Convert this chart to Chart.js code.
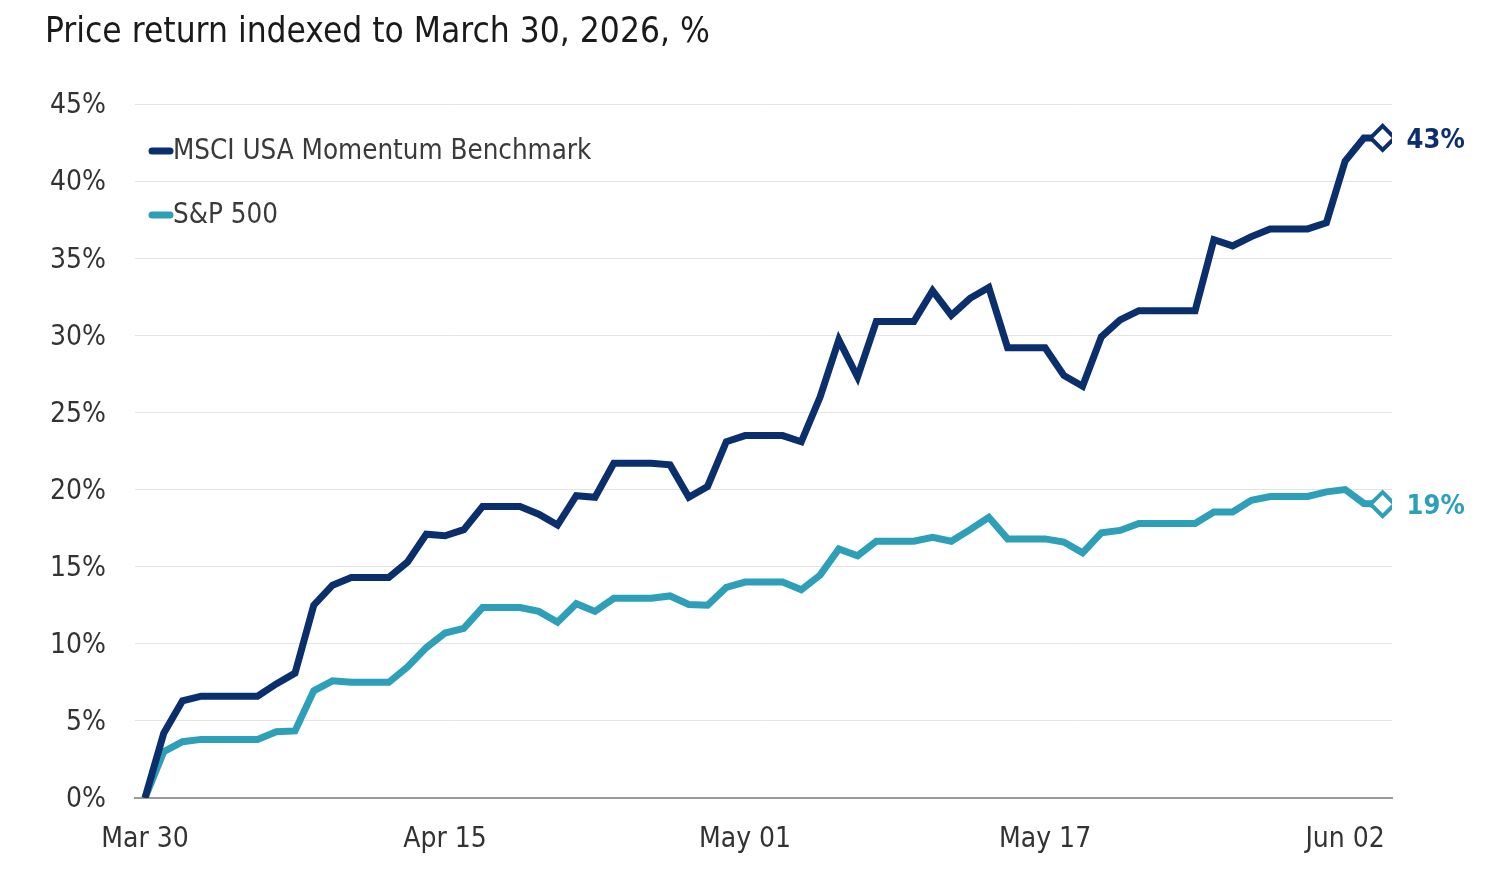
<!DOCTYPE html>
<html>
<head>
<meta charset="utf-8">
<title>Price return indexed</title>
<script src="https://cdn.jsdelivr.net/npm/chart.js@4.4.1/dist/chart.umd.min.js"></script>
<style>
  html, body { margin: 0; padding: 0; background: #fff; }
  #wrap { width: 1504px; height: 869px; }
</style>
</head>
<body>
<div id="wrap"><canvas id="linechart" width="1504" height="869"></canvas></div>
<script>
// daily values, Mar 30 (day 0) to Jun 04 (day 66)
const momentum = [
  0, 4.2, 6.3, 6.6, 6.6, 6.6, 6.6, 7.4, 8.1, 12.5,
  13.8, 14.3, 14.3, 14.3, 15.3, 17.1, 17.0, 17.4, 18.9, 18.9,
  18.9, 18.4, 17.7, 19.6, 19.5, 21.7, 21.7, 21.7, 21.6, 19.5,
  20.2, 23.1, 23.5, 23.5, 23.5, 23.1, 26.0, 29.7, 27.3, 30.9,
  30.9, 30.9, 32.9, 31.3, 32.4, 33.1, 29.2, 29.2, 29.2, 27.4,
  26.7, 29.9, 31.0, 31.6, 31.6, 31.6, 31.6, 36.2, 35.8, 36.4,
  36.9, 36.9, 36.9, 37.3, 41.3, 42.8, 42.8
];
const sp500 = [
  0, 3.0, 3.65, 3.8, 3.8, 3.8, 3.8, 4.3, 4.35, 6.95,
  7.6, 7.5, 7.5, 7.5, 8.5, 9.75, 10.7, 11.0, 12.35, 12.35,
  12.35, 12.1, 11.4, 12.6, 12.1, 12.95, 12.95, 12.95, 13.1, 12.55,
  12.5, 13.65, 14.0, 14.0, 14.0, 13.5, 14.45, 16.15, 15.7, 16.65,
  16.65, 16.65, 16.9, 16.65, 17.4, 18.2, 16.8, 16.8, 16.8, 16.6,
  15.9, 17.2, 17.35, 17.8, 17.8, 17.8, 17.8, 18.55, 18.55, 19.3,
  19.55, 19.55, 19.55, 19.85, 20.0, 19.1, 19.05
];
const seriesNames = ['MSCI USA Momentum Benchmark', 'S&P 500'];
const seriesColors = ['#0b2f6c', '#2e9fb8'];
const tickDays = [0, 16, 32, 48, 64];
const tickLabels = ['Mar 30', 'Apr 15', 'May 01', 'May 17', 'Jun 02'];

const FONT = "'DejaVu Sans Condensed', 'Liberation Sans Narrow', sans-serif";

function toPoints(arr){
    return arr.map((v, i) => ({x: i, y: v}));
}

function lastOnly(size){
    return ctx => ctx.dataIndex === ctx.dataset.data.length - 1 ? size : 0;
}

// legend drawn inside the plot, top left
const insideLegend = {
    id: 'insideLegend',
    afterDraw(chart){
        const ctx = chart.ctx;
        const area = chart.chartArea;
        ctx.save();
        chart.data.datasets.forEach((ds, i) => {
            const y = area.top + 47 + i * 64;
            ctx.strokeStyle = ds.borderColor;
            ctx.lineWidth = 7;
            ctx.lineCap = 'round';
            ctx.beginPath();
            ctx.moveTo(area.left + 17, y);
            ctx.lineTo(area.left + 35, y);
            ctx.stroke();
            ctx.fillStyle = '#3a3a3a';
            ctx.font = '27.5px ' + FONT;
            ctx.textBaseline = 'middle';
            ctx.textAlign = 'left';
            ctx.fillText(ds.label, area.left + 38, y + 1);
        });
        ctx.restore();
    }
};

// value label next to the last point of each line
const endLabels = {
    id: 'endLabels',
    afterDatasetsDraw(chart){
        const ctx = chart.ctx;
        ctx.save();
        chart.data.datasets.forEach((ds, i) => {
            const meta = chart.getDatasetMeta(i);
            const pt = meta.data[meta.data.length - 1];
            const val = ds.data[ds.data.length - 1].y;
            ctx.fillStyle = ds.borderColor;
            ctx.font = 'bold 27px ' + FONT;
            ctx.textBaseline = 'middle';
            ctx.textAlign = 'left';
            ctx.fillText(Math.round(val) + '%', pt.x + 24, pt.y + 3);
        });
        ctx.restore();
    }
};

const datasets = [momentum, sp500].map((arr, i) => ({
    label: seriesNames[i],
    data: toPoints(arr),
    borderColor: seriesColors[i],
    backgroundColor: seriesColors[i],
    borderWidth: 7,
    tension: 0,
    pointStyle: 'rectRot',
    pointRadius: lastOnly(12),
    pointHoverRadius: lastOnly(12),
    pointBackgroundColor: '#fff',
    pointBorderColor: seriesColors[i],
    pointBorderWidth: 4,
    order: i
}));

new Chart(document.getElementById('linechart'), {
    type: 'line',
    data: { datasets: datasets },
    options: {
        responsive: false,
        animation: false,
        layout: {
            padding: { left: 45, right: 112, top: 0, bottom: 0 }
        },
        scales: {
            x: {
                type: 'linear',
                min: -0.533,
                max: 66.5,
                afterBuildTicks: scale => {
                    scale.ticks = tickDays.map(v => ({ value: v }));
                },
                afterFit: scale => { scale.height = 71; },
                grid: { display: false, drawTicks: false },
                border: { display: true, color: '#9a9a9a', width: 2 },
                ticks: {
                    padding: 25,
                    color: '#333',
                    font: { family: FONT, size: 28 },
                    maxRotation: 0,
                    autoSkip: false,
                    callback: v => tickLabels[tickDays.indexOf(v)] || ''
                }
            },
            y: {
                min: 0,
                max: 45,
                afterFit: scale => { scale.width = 90; },
                grid: { color: '#e4e4e4', lineWidth: 1, drawTicks: false },
                border: { display: false },
                ticks: {
                    stepSize: 5,
                    padding: 29,
                    labelOffset: 2,
                    color: '#333',
                    font: { family: FONT, size: 28 },
                    callback: v => v + '%'
                }
            }
        },
        plugins: {
            legend: { display: false },
            tooltip: { enabled: false },
            title: {
                display: true,
                text: 'Price return indexed to March 30, 2026, %',
                align: 'start',
                color: '#1a1a1a',
                font: { family: FONT, size: 35, weight: 'normal' },
                padding: { top: 12, bottom: 50 }
            }
        }
    },
    plugins: [insideLegend, endLabels]
});
</script>
</body>
</html>
